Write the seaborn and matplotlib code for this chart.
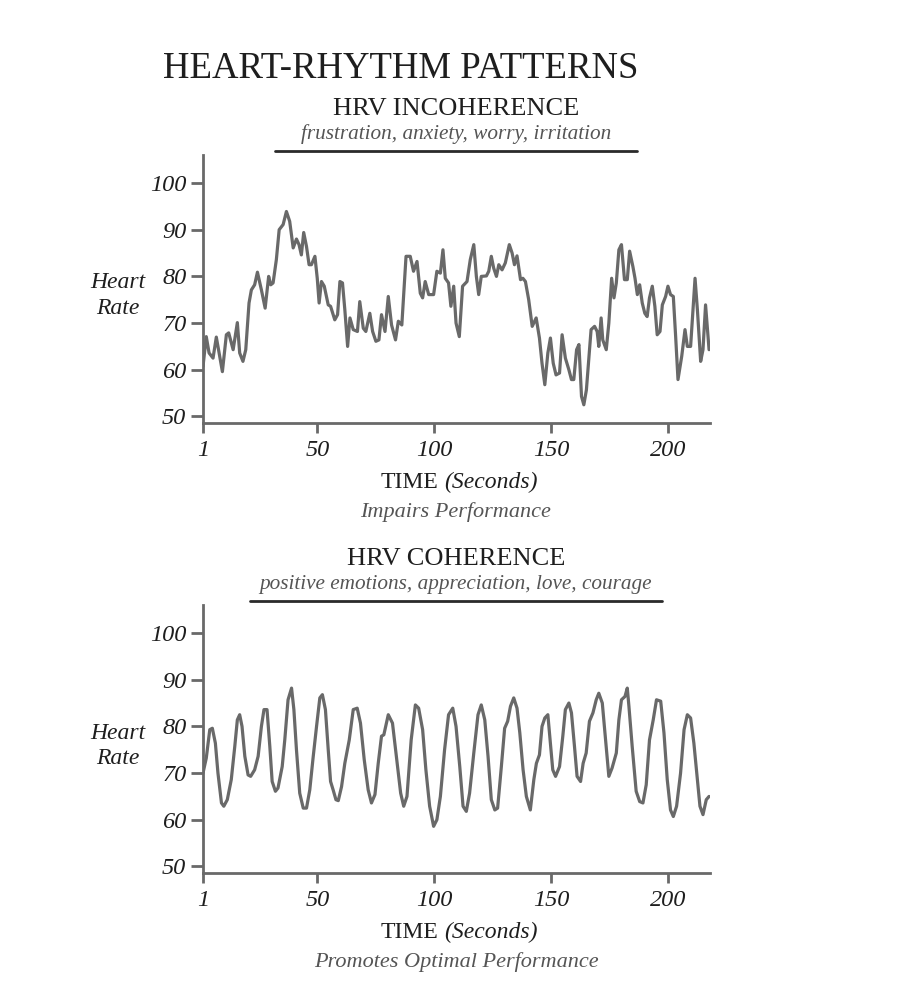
import numpy as np
import pandas as pd
import matplotlib
matplotlib.use("Agg")
import matplotlib.pyplot as plt
import seaborn as sns

# ------------------------
# Data
# ------------------------

incoh_time = [1, 2.4, 3.6, 5.3, 6.7, 9.3, 11, 12, 13.9, 15.7, 16.7, 18.1, 19.3, 20.7, 21.7,
              23.1, 24.3, 26, 27.6, 29.1, 30, 31, 32.4, 33.6, 35.3, 36.7, 38.1, 39.6, 41,
              42.1, 43.1, 44.1, 45.3, 46.4, 47.4, 48.9, 49.9, 50.7, 51.7, 52.9, 54.6, 55.6,
              57.4, 58.6, 59.6, 60.7, 61.7, 62.9, 63.9, 65.3, 67.1, 68.1, 69.6, 70.7, 72.4,
              73.6, 75, 76.3, 77.4, 78.9, 80.3, 81.7, 83.4, 84.6, 86.1, 87.9, 89.7, 91.1,
              92.6, 94, 95, 96.1, 97.6, 99.7, 101.1, 102.6, 103.7, 104.7, 106.1, 107.1,
              108.3, 109.3, 110.7, 112.1, 114, 115.4, 116.9, 118, 119, 120.1, 122.3, 123.3,
              124.4, 125.4, 126.6, 127.6, 129, 130.4, 132.1, 133.3, 134.3, 135.4, 136.9,
              137.9, 139, 140.4, 141.9, 143.6, 145, 146.1, 147.3, 148.6, 149.7, 150.9,
              152.1, 153.6, 154.7, 156.1, 157.6, 158.7, 159.7, 160.9, 161.9, 163, 164,
              165.1, 166.1, 167.1, 168.6, 169.7, 170.4, 171.4, 172.1, 173.6, 174.7, 175.9,
              176.9, 177.9, 179, 180.1, 181.4, 182.6, 183.6, 185, 185.9, 186.9, 187.9, 189,
              190.1, 191.1, 192.1, 193.3, 194.4, 195.4, 196.6, 197.6, 199, 200, 201.1,
              202.3, 203.3, 204.3, 205.9, 207.3, 208.3, 209.7, 211.6, 212.6, 214, 215,
              216.1, 217.6]
incoh_hr = [60.7, 67.1, 63.6, 62.5, 67, 59.6, 67.5, 67.9, 64.3, 70.1, 63.6, 61.8, 64.3, 74.3,
            77.1, 78.2, 80.9, 77.1, 73.2, 80, 78.2, 78.6, 83.6, 90, 91.1, 93.9, 91.8, 86.1,
            88, 86.8, 84.6, 89.4, 86.4, 82.5, 82.5, 84.3, 79.6, 74.3, 78.9, 77.9, 73.9,
            73.6, 70.7, 71.8, 78.9, 78.6, 72.9, 65, 71.1, 68.6, 68.2, 74.6, 68.9, 68.2,
            72.1, 68.2, 66.1, 66.4, 71.8, 68.2, 75.7, 69.6, 66.4, 70.4, 69.6, 84.3, 84.3,
            81.1, 83.2, 76.4, 75.4, 78.9, 76.1, 76.1, 81.1, 80.7, 85.7, 79.6, 78.6, 73.6,
            77.9, 70, 67.1, 77.9, 78.9, 83.6, 86.8, 80, 76.1, 80, 80.1, 81.1, 84.3, 81.8,
            80, 82.5, 81.4, 82.9, 86.8, 85, 82.5, 84.4, 79.3, 79.6, 78.9, 75, 69.3, 71.1,
            66.8, 61.4, 56.8, 63.6, 66.8, 61.4, 58.9, 59.3, 67.5, 62.5, 60, 57.9, 57.9,
            64.3, 65.4, 54.3, 52.5, 55.7, 62.1, 68.6, 69.3, 68.2, 65, 71.1, 66.4, 64.3,
            70, 79.6, 75.4, 78.6, 85.7, 86.8, 79.3, 79.3, 85.4, 82.1, 79.6, 76.1, 78.2,
            74.3, 72.1, 71.4, 75.4, 77.9, 73.6, 67.5, 68.2, 73.9, 75.7, 77.9, 76.1, 75.7,
            67.1, 57.9, 62.9, 68.6, 65, 65, 79.6, 72.9, 61.8, 64.3, 73.9, 64.3]

coh_time = [1, 2.4, 3.9, 5, 6.3, 7.4, 8.9, 9.9, 11.4, 13.1, 14.6, 15.7, 16.7, 17.7, 18.9,
            20.3, 21.4, 23.1, 24.6, 26, 27.1, 28.4, 29.6, 30.6, 32, 33.1, 34.9, 36, 37.4,
            38.9, 39.9, 41, 42.4, 43.9, 45.3, 46.7, 48.1, 49.6, 51, 52.1, 53.4, 54.6, 55.6,
            56.7, 57.9, 58.9, 60.3, 61.7, 63.6, 65.3, 67, 68.4, 70, 71.7, 73.1, 74.6, 76,
            77.4, 78.4, 80.3, 82.1, 83.9, 85.6, 86.9, 88.3, 90.1, 91.9, 93.3, 95, 96.4, 98,
            99.7, 101.1, 102.6, 104.4, 106.1, 107.9, 109.3, 110.9, 112.3, 113.7, 115.1,
            116.9, 118.7, 120.1, 121.6, 123, 124.4, 125.9, 127.1, 128.7, 130.1, 131.4,
            132.6, 134, 135.4, 136.6, 138, 139.4, 141.1, 142.6, 143.7, 145, 146.1, 147.3,
            148.6, 149.7, 150.7, 151.9, 153.6, 155, 156.1, 157.6, 158.7, 160, 161.1, 162.6,
            163.7, 165, 166.4, 167.9, 169.3, 170.4, 171.9, 173.3, 174.7, 176.1, 177.9, 179,
            180.1, 181.6, 182.6, 183.3, 184.7, 186.4, 187.9, 189.3, 190.7, 192.1, 193.7,
            195.1, 196.9, 198.3, 199.7, 201.1, 202.3, 203.7, 205.4, 206.9, 208.3, 209.7,
            211.1, 212.6, 213.7, 215, 216.4, 217.6]
coh_hr = [70, 73.2, 79.3, 79.6, 76.4, 70, 63.6, 62.9, 64.3, 68.6, 75.7, 81.4, 82.5, 80, 73.6,
          69.6, 69.3, 70.7, 73.6, 80, 83.6, 83.6, 75.7, 68.2, 66.1, 66.8, 71.4, 77.1, 85.7,
          88.2, 83.6, 75, 65.7, 62.5, 62.5, 66.4, 73.2, 80, 86.1, 86.8, 83.6, 75, 68.2,
          66.4, 64.3, 64.1, 67.1, 72.1, 77.1, 83.6, 83.9, 80.7, 72.9, 66.4, 63.6, 65.4,
          72.1, 77.9, 78.2, 82.5, 80.7, 72.9, 65.7, 62.9, 65, 77.1, 84.6, 83.9, 79.3, 70.7,
          62.9, 58.6, 60, 65, 75, 82.5, 83.9, 80, 71.4, 62.9, 61.8, 65.7, 74.3, 82.5, 84.6,
          81.4, 73.6, 64.3, 62.1, 62.5, 71.4, 79.6, 81.1, 84.3, 86.1, 83.9, 78.6, 70.7, 65,
          62.1, 68.6, 72.1, 73.9, 80, 81.8, 82.5, 76.4, 70.7, 69.3, 71.4, 77.9, 83.6, 85,
          82.9, 75.7, 69.3, 68.2, 72.1, 74.3, 81.1, 82.9, 85.7, 87.1, 85, 77.1, 69.3, 71.1,
          74.3, 81.4, 85.7, 86.4, 88.2, 84.3, 75.7, 66.1, 63.9, 63.6, 67.5, 77.1, 81.4,
          85.7, 85.4, 78.6, 68.6, 62.1, 60.7, 62.9, 70, 79.3, 82.5, 81.8, 76.4, 68.6, 62.9,
          61.1, 64.3, 65]

x_ticks = [1, 50, 100, 150, 200]
y_ticks = [50, 60, 70, 80, 90, 100]

panels = [
    ("HRV INCOHERENCE", "frustration, anxiety, worry, irritation", "Impairs Performance"),
    ("HRV COHERENCE", "positive emotions, appreciation, love, courage", "Promotes Optimal Performance"),
]

# ------------------------
# Style
# ------------------------

sns.set_style("white")
plt.rcParams["font.family"] = ["Liberation Serif", "DejaVu Serif"]

LINE = "#696969"
DARK = "#1e1e1e"
SUB = "#555555"

W, H = 912, 996
fig = plt.figure(figsize=(W / 100, H / 100), dpi=100)


def fx(px):
    return px / W


def fy(py):
    return 1 - py / H


fig.text(fx(401), fy(69), "HEART-RHYTHM PATTERNS", ha="center", va="center",
         fontsize=26.5, color=DARK)

tops = [155, 605]
underline_x = [(275, 637), (250, 662)]
series = [(incoh_time, incoh_hr), (coh_time, coh_hr)]

for i, (top, (t, hr), (title, mood, effect)) in enumerate(zip(tops, series, panels)):
    ax = fig.add_axes([fx(203), fy(top + 268), 507 / W, 268 / H])
    df = pd.DataFrame({"time": t, "hr": hr})
    sns.lineplot(data=df, x="time", y="hr", ax=ax, color=LINE, linewidth=2.3)

    ax.set_xlim(1, 218)
    ax.set_ylim(48.6, 106)
    ax.set_xticks(x_ticks)
    ax.set_yticks(y_ticks)
    ax.set_xticklabels([str(v) for v in x_ticks], fontsize=17.5, style="italic", color=DARK)
    ax.set_yticklabels([str(v) for v in y_ticks], fontsize=17.5, style="italic", color=DARK)
    ax.set_xlabel("")
    ax.set_ylabel("")
    for side in ["top", "right"]:
        ax.spines[side].set_visible(False)
    for side in ["left", "bottom"]:
        ax.spines[side].set_color(LINE)
        ax.spines[side].set_linewidth(2.0)
    ax.tick_params(axis="y", direction="out", length=9, width=2, color=LINE, pad=3, left=True)
    ax.tick_params(axis="x", direction="out", length=7, width=2, color=LINE, pad=5, bottom=True)
    ax.grid(False)

    # headings above the panel
    ax_bottom = top + 268
    fig.text(fx(456), fy(top - 46), title, ha="center", va="center", fontsize=19, color=DARK)
    fig.text(fx(456), fy(top - 21), mood, ha="center", va="center", fontsize=15.3,
             style="italic", color=SUB)
    x0, x1 = underline_x[i]
    fig.add_artist(plt.Line2D([fx(x0), fx(x1)], [fy(top - 4), fy(top - 4)],
                              color="#2a2a2a", linewidth=2.0, transform=fig.transFigure))

    # y label
    fig.text(fx(118), fy(top + 128), "Heart", ha="center", va="center", fontsize=17,
             style="italic", color=DARK)
    fig.text(fx(118), fy(top + 153), "Rate", ha="center", va="center", fontsize=17,
             style="italic", color=DARK)

    # x label and caption below
    fig.text(fx(438), fy(ax_bottom + 59), "TIME", ha="right", va="center", fontsize=17,
             color=DARK)
    fig.text(fx(444), fy(ax_bottom + 59), "(Seconds)", ha="left", va="center", fontsize=17,
             style="italic", color=DARK)
    fig.text(fx(456), fy(ax_bottom + 89), effect, ha="center", va="center", fontsize=16,
             style="italic", color=SUB)

plt.savefig("out.png", dpi=100)
